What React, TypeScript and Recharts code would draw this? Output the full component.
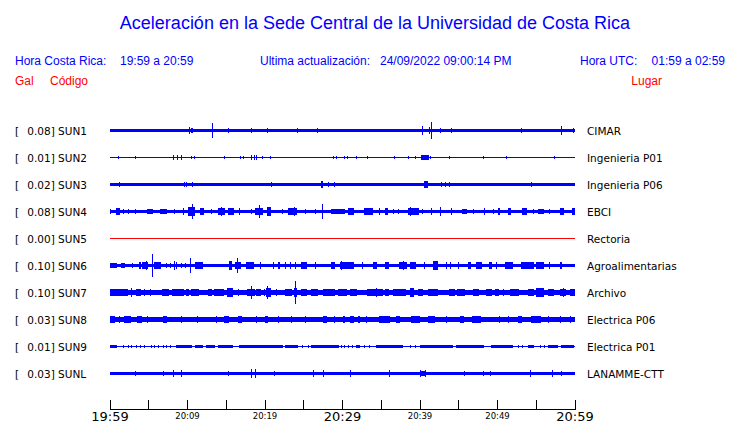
import { Area, ComposedChart, Line, XAxis, YAxis } from "recharts";

// minutes after 19:59 (local), 0..60
const TICKS = [0, 5, 10, 15, 20, 25, 30, 35, 40, 45, 50, 55, 60];
const TICK_LABELS: Record<number, string> = {
  0: "19:59",
  10: "20:09",
  20: "20:19",
  30: "20:29",
  40: "20:39",
  50: "20:49",
  60: "20:59",
};
const BIG_TICKS = [0, 30, 60];

const CODES = ["SUN1", "SUN2", "SUN3", "SUN4", "SUN5", "SUN6", "SUN7", "SUN8", "SUN9", "SUNL"];
const PEAKS = ["0.08", "0.01", "0.02", "0.08", "0.00", "0.10", "0.10", "0.03", "0.01", "0.03"];
const PLACES = [
  "CIMAR",
  "Ingenieria P01",
  "Ingenieria P06",
  "EBCI",
  "Rectoria",
  "Agroalimentarias",
  "Archivo",
  "Electrica P06",
  "Electrica P01",
  "LANAMME-CTT",
];

// background noise half-amplitude per station (gal)
const BASE = [0.014, 0.005, 0.017, 0.017, 0, 0.014, 0.019, 0.023, 0.006, 0.016];

// bursts: [from minute, to minute, half-amplitude gal]
const SUN1_BURSTS = [
  [10.2, 10.2, 0.037], [10.5, 10.6, 0.023], [13.3, 13.3, 0.069], [15.2, 15.2, 0.019],
  [18.3, 18.3, 0.019], [20.4, 20.4, 0.023], [24.3, 24.3, 0.019], [26.8, 26.8, 0.019],
  [40.4, 40.4, 0.046], [41.3, 41.3, 0.028], [41.5, 41.5, 0.083], [42.6, 42.6, 0.023],
  [44.1, 44.1, 0.019], [49, 49, 0.017], [53.1, 53.1, 0.019], [58.2, 58.2, 0.042],
  [59.7, 59.7, 0.019],
];
const SUN2_BURSTS = [
  [1.07, 1.07, 0.014], [3.3, 3.3, 0.014], [4, 4, 0.014], [8.3, 8.3, 0.019], [8.7, 8.7, 0.019],
  [9.2, 9.2, 0.019], [10.5, 10.5, 0.014], [10.9, 10.9, 0.014], [14.8, 14.8, 0.014],
  [16.9, 16.9, 0.014], [17.2, 17.2, 0.014], [18.3, 18.3, 0.019], [18.6, 18.6, 0.019],
  [18.9, 18.9, 0.019], [19.6, 19.6, 0.014], [20.7, 20.7, 0.014], [28.9, 28.9, 0.014],
  [29.2, 29.2, 0.014], [30.2, 30.2, 0.014], [30.6, 30.6, 0.014], [31.7, 31.7, 0.014],
  [33.3, 33.3, 0.014], [36.7, 36.7, 0.014], [38.5, 38.5, 0.014], [39.4, 39.4, 0.014],
  [40.3, 41.1, 0.019], [41.4, 41.4, 0.014], [43.8, 43.8, 0.014], [48.3, 48.3, 0.014],
  [51.1, 51.1, 0.014], [57.4, 57.4, 0.014],
];
const SUN3_BURSTS = [
  [1.2, 1.2, 0.026], [9.6, 9.6, 0.023], [9.9, 9.9, 0.023], [10.6, 10.6, 0.023],
  [20.9, 20.9, 0.023], [27.3, 27.4, 0.028], [28.3, 28.3, 0.023], [29, 29, 0.023],
  [40.6, 41, 0.028], [42.7, 42.7, 0.023], [43.3, 43.3, 0.023], [43.8, 43.8, 0.023],
  [54.4, 54.4, 0.023],
];
const SUN4_BURSTS = [
  [0, 0.1, 0.023], [0.9, 1.3, 0.028], [1.7, 1.7, 0.023], [2.4, 2.4, 0.023], [3.2, 3.2, 0.023],
  [4, 4, 0.023], [4.9, 5.5, 0.023], [6.5, 7.3, 0.023], [8.4, 8.4, 0.023], [9.5, 9.5, 0.028],
  [10.1, 10.9, 0.042], [10.6, 10.6, 0.065], [11.6, 12.1, 0.032], [13.1, 13.1, 0.023],
  [14, 14.8, 0.028], [14.4, 14.4, 0.042], [15.2, 15.9, 0.028], [16.8, 16.8, 0.028],
  [18.3, 18.3, 0.023], [18.8, 19.6, 0.037], [19.3, 19.3, 0.056], [20.4, 20.8, 0.042],
  [22.2, 22.2, 0.023], [23, 24.1, 0.032], [23.8, 23.8, 0.042], [25.2, 25.2, 0.023],
  [26.5, 26.5, 0.023], [27.4, 27.4, 0.074], [28.6, 30.3, 0.021], [30.7, 31.4, 0.028],
  [32.9, 33.9, 0.032], [34.8, 34.8, 0.028], [35.5, 35.7, 0.037], [36.6, 36.6, 0.023],
  [37.2, 37.2, 0.023], [38.5, 39.7, 0.028], [38.7, 38.7, 0.042], [40.4, 40.4, 0.023],
  [41.5, 41.5, 0.032], [42.6, 42.6, 0.042], [44.1, 44.1, 0.032], [45.5, 46, 0.023],
  [46.9, 46.9, 0.023], [48.4, 48.4, 0.028], [49.5, 49.5, 0.023], [50.1, 50.3, 0.032],
  [51.4, 51.6, 0.032], [53.3, 53.8, 0.037], [54.6, 54.6, 0.023], [55.2, 55.9, 0.023],
  [56.8, 56.8, 0.023], [58.1, 58.5, 0.028], [59.6, 60, 0.037],
];
const SUN5_BURSTS: number[][] = [];
const SUN6_BURSTS = [
  [0, 0.9, 0.026], [1.5, 1.9, 0.023], [2.9, 2.9, 0.023], [3.7, 3.9, 0.037], [4.3, 4.9, 0.032],
  [4.8, 4.8, 0.042], [5.5, 5.5, 0.106], [5.8, 6.5, 0.032], [7.3, 7.3, 0.023], [7.7, 7.7, 0.023],
  [8.4, 8.4, 0.046], [8.6, 8.6, 0.037], [9.3, 9.3, 0.023], [9.7, 9.7, 0.023], [10.4, 10.4, 0.065],
  [11, 12, 0.028], [15.4, 15.6, 0.046], [16.2, 16.9, 0.037], [16.5, 16.5, 0.074],
  [17.6, 18.5, 0.028], [19.4, 19.4, 0.028], [20, 20, 0.046], [21.1, 21.1, 0.028],
  [21.7, 21.9, 0.032], [22.6, 22.6, 0.028], [23.2, 23.2, 0.028], [23.9, 23.9, 0.028],
  [24.7, 25.4, 0.032], [26.5, 26.5, 0.028], [28, 28, 0.023], [28.6, 29, 0.028],
  [29.7, 31.4, 0.028], [29.9, 29.9, 0.042], [30.1, 30.1, 0.037], [32.6, 32.6, 0.032],
  [34, 34.4, 0.028], [35.5, 35.9, 0.037], [37.4, 38.3, 0.037], [37.9, 37.9, 0.042],
  [38.7, 39.4, 0.032], [40.6, 40.6, 0.028], [41.7, 42.2, 0.042], [43.4, 43.4, 0.032],
  [43.9, 43.9, 0.028], [45, 45, 0.028], [46.2, 46.5, 0.032], [47.3, 48, 0.032],
  [49, 49.3, 0.037], [49.9, 49.9, 0.028], [51, 52, 0.032], [53.1, 54.6, 0.032],
  [54.3, 54.3, 0.037], [55, 55.9, 0.028], [56.8, 56.8, 0.028], [58.1, 58.3, 0.028],
];
const SUN7_BURSTS = [
  [0, 2.2, 0.028], [0.2, 0.2, 0.032], [1.1, 1.6, 0.037], [2.7, 2.7, 0.042], [3.4, 3.9, 0.032],
  [4.5, 4.5, 0.028], [5.2, 5.2, 0.028], [6, 6, 0.023], [6.7, 7.5, 0.037], [8, 9.5, 0.032],
  [8.7, 8.7, 0.037], [9.9, 10.1, 0.028], [10.5, 11.4, 0.037], [12, 12, 0.028],
  [12.7, 13.1, 0.028], [13.5, 14.6, 0.037], [15.1, 15.7, 0.042], [16.6, 16.6, 0.028],
  [17.7, 18.6, 0.032], [18.2, 18.2, 0.06], [18.9, 19.4, 0.032], [19.9, 19.9, 0.028],
  [20.3, 20.8, 0.042], [20.4, 20.4, 0.056], [21.5, 21.5, 0.028], [22.6, 23.4, 0.037],
  [23.7, 24.1, 0.046], [23.9, 23.9, 0.102], [24.7, 25.4, 0.032], [26, 26.7, 0.032],
  [27.5, 29, 0.032], [29.5, 30.5, 0.032], [30, 30, 0.037], [31, 31.8, 0.032],
  [31.5, 31.5, 0.037], [33.3, 35.1, 0.032], [34.4, 34.4, 0.042], [35.5, 35.9, 0.032],
  [36.6, 38.1, 0.037], [38.7, 39.1, 0.042], [38.9, 38.9, 0.046], [39.8, 40.4, 0.032],
  [41.1, 42.2, 0.028], [43.7, 44.5, 0.032], [44.9, 45.8, 0.032], [46.9, 47.5, 0.032],
  [48.6, 49.2, 0.037], [49.7, 50.1, 0.028], [50.8, 50.8, 0.028], [51.6, 52.7, 0.032],
  [54, 54.6, 0.032], [55, 55.9, 0.042], [56.6, 57.2, 0.032], [58.1, 58.7, 0.032],
  [58.5, 58.5, 0.046], [59.4, 60, 0.028],
];
const SUN8_BURSTS = [
  [0, 0.6, 0.032], [1.3, 1.3, 0.032], [1.9, 2.6, 0.032], [3.5, 4.1, 0.028], [4.9, 4.9, 0.032],
  [6.9, 7.3, 0.032], [9.3, 9.3, 0.032], [11.2, 11.2, 0.032], [13.8, 13.8, 0.032],
  [14.8, 15.3, 0.032], [16.6, 17, 0.032], [18.9, 18.9, 0.032], [20, 20.4, 0.032],
  [21.7, 21.7, 0.032], [23.4, 23.4, 0.032], [25.2, 25.2, 0.032], [27.5, 28, 0.032],
  [29, 29, 0.032], [30.1, 30.3, 0.032], [31, 31.4, 0.032], [32, 32.3, 0.032],
  [33.1, 33.1, 0.032], [34.8, 36.1, 0.032], [37, 37.4, 0.032], [38.9, 40, 0.032],
  [41.1, 41.9, 0.032], [43.4, 43.4, 0.032], [45.2, 45.6, 0.032], [46.7, 47.7, 0.032],
  [47.4, 47.4, 0.037], [50.3, 50.3, 0.032], [51.4, 51.4, 0.032], [52.7, 53.1, 0.032],
  [54.4, 55.5, 0.032], [56.6, 56.6, 0.032], [58.1, 58.1, 0.032], [59.4, 59.4, 0.037],
];
const SUN9_BURSTS = [
  [0, 0.9, 0.014], [1.7, 1.7, 0.014], [2.4, 2.4, 0.014], [2.8, 2.8, 0.014], [3.4, 3.4, 0.014],
  [3.9, 3.9, 0.014], [4.5, 4.5, 0.014], [5.4, 5.4, 0.014], [5.8, 5.8, 0.014], [6.2, 6.2, 0.014],
  [6.9, 6.9, 0.014], [7.3, 7.3, 0.014], [7.7, 7.7, 0.014], [8.6, 10.5, 0.014], [11, 12, 0.014],
  [12.5, 13.5, 0.014], [14, 15.7, 0.014], [16.8, 22.2, 0.014], [22.6, 24.3, 0.014],
  [24.9, 24.9, 0.014], [25.6, 25.6, 0.014], [26, 29.5, 0.014], [29.9, 29.9, 0.014],
  [30.3, 30.3, 0.014], [30.7, 30.7, 0.014], [31.2, 31.2, 0.014], [31.8, 32.3, 0.014],
  [32.9, 32.9, 0.014], [33.5, 33.5, 0.014], [34.4, 36.6, 0.014], [36.8, 37.8, 0.014],
  [38.7, 38.7, 0.014], [39.4, 39.4, 0.014], [40, 42.6, 0.014], [42.8, 44.3, 0.014],
  [44.7, 48.2, 0.014], [49.2, 52, 0.014], [52.7, 52.7, 0.014], [53.3, 53.3, 0.014],
  [54, 54.6, 0.014], [55.5, 55.5, 0.014], [56.1, 56.1, 0.014], [56.6, 57.8, 0.014],
  [58.3, 59.8, 0.014],
];
const SUNL_BURSTS = [
  [0, 0, 0.019], [3.2, 3.2, 0.023], [6.9, 6.9, 0.023], [8.2, 8.2, 0.037], [9.3, 9.3, 0.028],
  [15.3, 15.3, 0.023], [18.3, 18.3, 0.042], [18.8, 18.8, 0.042], [21.3, 21.3, 0.023],
  [26.2, 26.2, 0.028], [27.5, 27.5, 0.032], [31, 31, 0.032], [36.1, 36.1, 0.028],
  [40.1, 40.1, 0.032], [40.2, 40.7, 0.023], [40.8, 40.8, 0.037], [44, 44, 0.028],
  [45.7, 45.7, 0.023], [48.2, 48.2, 0.023], [49.1, 49.1, 0.023], [54.2, 54.2, 0.028],
  [57.1, 57.1, 0.032], [58.3, 58.3, 0.023],
];
const BURSTS = [
  SUN1_BURSTS, SUN2_BURSTS, SUN3_BURSTS, SUN4_BURSTS, SUN5_BURSTS,
  SUN6_BURSTS, SUN7_BURSTS, SUN8_BURSTS, SUN9_BURSTS, SUNL_BURSTS,
];

const STEP = 1 / 8; // sampling, minutes
const ROW_GAP = 0.25; // gal between traces
const BLUE = "#0000ff";
const RED = "#ff0000";

const offsetOf = (i: number) => (CODES.length - 1 - i) * ROW_GAP;

const data = Array.from({ length: 60 / STEP + 1 }, (_, k) => {
  const t = k * STEP;
  const row: Record<string, number | number[]> = { t };
  CODES.forEach((code, i) => {
    let a = BASE[i];
    for (const [b0, b1, amp] of BURSTS[i]) {
      if (t >= b0 - STEP / 2 && t < b1 + STEP / 2 && amp > a) a = amp;
    }
    const off = offsetOf(i);
    row[code] = a > 0 ? [off - a, off + a] : off;
  });
  return row;
});

const TimeTick = (props: any) => {
  const { x, y, payload } = props;
  const v = payload.value as number;
  const label = TICK_LABELS[v];
  const big = BIG_TICKS.includes(v);
  return (
    <g>
      <line x1={x} x2={x} y1={y - 9.5} y2={y} stroke="#000" strokeWidth={1} shapeRendering="crispEdges" />
      {label && (
        <text
          x={x}
          y={big ? y + 11.5 : y + 9}
          textAnchor="middle"
          fontFamily="DejaVu Sans"
          fontSize={big ? 13 : 8.5}
          fill="#000"
        >
          {label}
        </text>
      )}
    </g>
  );
};

const headFont = "'Liberation Sans', Arial, sans-serif";
const labelFont = "'DejaVu Sans', sans-serif";

export default function App() {
  return (
    <div style={{ position: "absolute", left: 0, top: 0, width: 740, height: 423, background: "#fff" }}>
      <style>{`.recharts-area-area, .recharts-line-curve { shape-rendering: crispEdges; }`}</style>
      <ComposedChart width={740} height={423} data={data} margin={{ top: 103.5, right: 165, bottom: 0, left: 110 }}>
        <XAxis
          dataKey="t"
          type="number"
          domain={[0, 60]}
          ticks={TICKS}
          height={13.5}
          tickSize={0}
          tickMargin={0}
          tickLine={false}
          axisLine={{ stroke: "#000", strokeWidth: 1 }}
          tick={<TimeTick />}
          interval={0}
        />
        <YAxis hide type="number" domain={[-1 / 3, 2.5]} allowDataOverflow />
        {CODES.map((code, i) =>
          BASE[i] > 0 ? (
            <Area
              key={code}
              dataKey={code}
              type="step"
              stroke="none"
              fill={BLUE}
              fillOpacity={1}
              dot={false}
              activeDot={false}
              isAnimationActive={false}
            />
          ) : (
            <Line
              key={code}
              dataKey={code}
              type="linear"
              stroke={RED}
              strokeWidth={1}
              dot={false}
              activeDot={false}
              isAnimationActive={false}
            />
          )
        )}
      </ComposedChart>
      <svg width={740} height={423} style={{ position: "absolute", left: 0, top: 0, pointerEvents: "none" }}>
        <text x={375} y={29} textAnchor="middle" fontFamily={headFont} fontSize={18} fill={BLUE}>
          Aceleración en la Sede Central de la Universidad de Costa Rica
        </text>
        <g fontFamily={headFont} fontSize={12} fill={BLUE}>
          <text x={15} y={65}>Hora Costa Rica:</text>
          <text x={120} y={65}>19:59 a 20:59</text>
          <text x={260} y={65}>Ultima actualización:</text>
          <text x={380} y={65}>24/09/2022 09:00:14 PM</text>
          <text x={580} y={65}>Hora UTC:</text>
          <text x={725} y={65} textAnchor="end">01:59 a 02:59</text>
        </g>
        <g fontFamily={headFont} fontSize={12} fill={RED}>
          <text x={15} y={85}>Gal</text>
          <text x={50} y={85}>Código</text>
          <text x={662} y={85} textAnchor="end">Lugar</text>
        </g>
        <g fontFamily={labelFont} fontSize={10.5} fill="#000">
          {CODES.map((code, i) => {
            const y = 130.5 + i * 27 + 4;
            return (
              <g key={code}>
                <text x={15} y={y}>[</text>
                <text x={27.3} y={y}>{`${PEAKS[i]}] ${code}`}</text>
                <text x={587} y={y}>{PLACES[i]}</text>
              </g>
            );
          })}
        </g>
      </svg>
    </div>
  );
}
